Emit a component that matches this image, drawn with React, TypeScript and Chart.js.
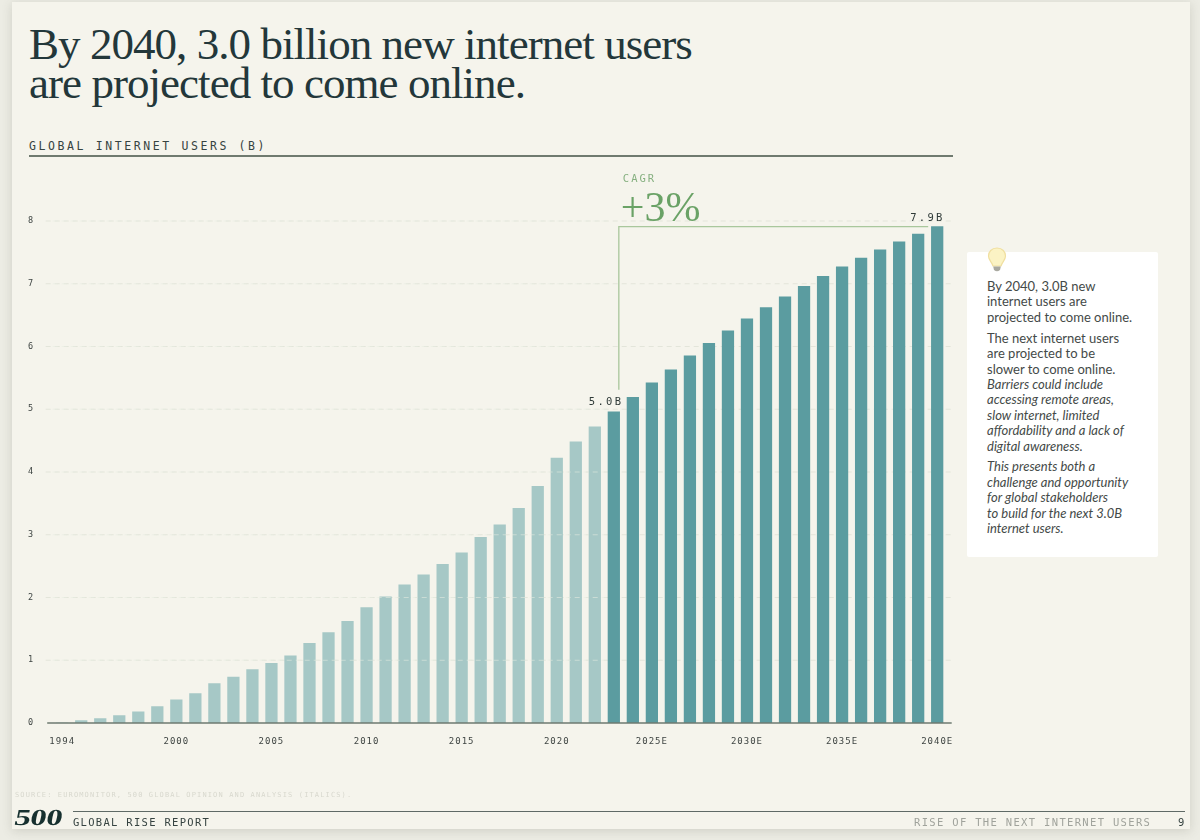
import React, { useEffect, useRef } from "react";
import { Chart, registerables } from "chart.js";

Chart.register(...registerables);

const years = [
  "1994", "1995", "1996", "1997", "1998", "1999", "2000", "2001", "2002", "2003", "2004", "2005",
  "2006", "2007", "2008", "2009", "2010", "2011", "2012", "2013", "2014", "2015", "2016", "2017",
  "2018", "2019", "2020", "2021", "2022", "2023", "2024", "2025E", "2026E", "2027E", "2028E", "2029E",
  "2030E", "2031E", "2032E", "2033E", "2034E", "2035E", "2036E", "2037E", "2038E", "2039E", "2040E",
];
const shownYears = ["1994", "2000", "2005", "2010", "2015", "2020", "2025E", "2030E", "2035E", "2040E"];
const historic = [
  0, 0.04, 0.07, 0.12, 0.18, 0.26, 0.37, 0.47, 0.63, 0.73, 0.85, 0.95, 1.07, 1.27, 1.44, 1.62, 1.84,
  2.01, 2.2, 2.36, 2.53, 2.71, 2.96, 3.16, 3.42, 3.77, 4.22, 4.48, 4.72,
];
const projected = [
  4.96, 5.19, 5.42, 5.63, 5.85, 6.05, 6.25, 6.44, 6.62, 6.79, 6.96, 7.12, 7.27, 7.41, 7.54, 7.67,
  7.79, 7.91,
];
const yTicks = [0, 1, 2, 3, 4, 5, 6, 7, 8];

const MONO = '"DejaVu Sans Mono", monospace';
const SERIF = '"Liberation Serif", serif';
const SANS = 'Lato, sans-serif';
const GREEN_LINE = "#a9c79c";

const decorPlugin = {
  id: "decor",
  beforeDraw(chart: any) {
    chart.ctx.letterSpacing = "1px";
    const { ctx, scales } = chart;
    const { x, y } = scales;
    ctx.save();
    ctx.strokeStyle = "#e3e5da";
    ctx.lineWidth = 1;
    ctx.setLineDash([5, 4]);
    yTicks.slice(1).forEach((t) => {
      ctx.beginPath();
      ctx.moveTo(x.left - 7, y.getPixelForValue(t));
      ctx.lineTo(x.right + 8, y.getPixelForValue(t));
      ctx.stroke();
    });
    ctx.restore();
  },
  afterDatasetsDraw(chart: any) {
    const { ctx, scales } = chart;
    const { x, y } = scales;
    const firstIdx = historic.length;
    const lastIdx = years.length - 1;
    const startX = x.getPixelForValue(firstIdx);
    const endX = x.getPixelForValue(lastIdx);

    ctx.save();
    // grid dashes showing through the light bars
    ctx.strokeStyle = "rgba(232,236,226,0.55)";
    ctx.lineWidth = 1;
    ctx.setLineDash([5, 4]);
    yTicks.slice(1).forEach((t) => {
      ctx.beginPath();
      ctx.moveTo(x.left, y.getPixelForValue(t));
      ctx.lineTo(startX - 7, y.getPixelForValue(t));
      ctx.stroke();
    });
    ctx.setLineDash([]);

    // baseline
    ctx.strokeStyle = "#6d7a70";
    ctx.lineWidth = 1.5;
    ctx.beginPath();
    ctx.moveTo(x.left - 5.5, y.getPixelForValue(0));
    ctx.lineTo(x.right + 5, y.getPixelForValue(0));
    ctx.stroke();

    // CAGR bracket
    const top = y.getPixelForValue(projected[projected.length - 1]);
    const bx = startX + 5;
    ctx.strokeStyle = GREEN_LINE;
    ctx.lineWidth = 1.3;
    ctx.beginPath();
    ctx.moveTo(bx, y.getPixelForValue(projected[0]) - 22);
    ctx.lineTo(bx, top);
    ctx.lineTo(endX - 9, top);
    ctx.stroke();

    // labels
    ctx.fillStyle = "#2f3a38";
    ctx.font = `10.5px ${MONO}`;
    ctx.letterSpacing = "2.3px";
    ctx.textBaseline = "middle";
    ctx.textAlign = "right";
    ctx.fillText(`${projected[0].toFixed(1)}B`, startX + 9.5, y.getPixelForValue(projected[0]) - 9);
    ctx.fillText(`${projected[projected.length - 1].toFixed(1)}B`, endX + 7.5, top - 8);

    ctx.textAlign = "left";
    ctx.fillStyle = "#86b080";
    ctx.font = `10.5px ${MONO}`;
    ctx.letterSpacing = "2px";
    ctx.fillText("CAGR", bx + 4, 179);
    ctx.fillStyle = "#6aa266";
    ctx.font = `42px ${SERIF}`;
    ctx.letterSpacing = "0px";
    ctx.textBaseline = "alphabetic";
    ctx.fillText("+3%", bx + 2, 221);
    ctx.restore();
    ctx.letterSpacing = "1px";
  },
};

const abs = (left: number, top: number, extra: React.CSSProperties = {}): React.CSSProperties => ({
  position: "absolute",
  left,
  top,
  whiteSpace: "nowrap",
  margin: 0,
  ...extra,
});

function Bulb() {
  return (
    <svg width="20" height="26" viewBox="0 0 20 26" style={{ position: "absolute", left: 987, top: 247 }}>
      <path
        d="M10 1 C4.5 1 1.5 5 1.5 9 C1.5 13 4.8 15 6 19 L14 19 C15.2 15 18.5 13 18.5 9 C18.5 5 15.5 1 10 1 Z"
        fill="#fbf3c4"
        stroke="#f0dfa0"
        strokeWidth="1.2"
      />
      <path d="M6.2 19.5 H13.8 L13 23 Q10 25.5 7 23 Z" fill="#a9a9a0" />
    </svg>
  );
}

export default function App() {
  const ref = useRef<HTMLCanvasElement>(null);

  useEffect(() => {
    const chart = new Chart(ref.current as HTMLCanvasElement, {
      type: "bar",
      data: {
        labels: years,
        datasets: [
          {
            label: "Historic",
            data: historic,
            backgroundColor: "#a6c8c6",
            barThickness: 11.6,
            grouped: false,
          },
          {
            label: "Projected",
            data: [...historic.map(() => null), ...projected],
            backgroundColor: "#5b9ca0",
            barThickness: 11.6,
            grouped: false,
          },
        ],
      } as any,
      options: {
        responsive: false,
        animation: false,
        layout: { padding: { top: 221, right: 253.3, left: 0, bottom: 0 } },
        plugins: { legend: { display: false }, tooltip: { enabled: false }, title: { display: false } },
        scales: {
          x: {
            afterFit(s: any) {
              s.height = 117;
            },
            grid: { display: false },
            border: { display: false },
            ticks: {
              autoSkip: false,
              maxRotation: 0,
              padding: 5,
              color: "#3f4543",
              font: { family: MONO, size: 9 },
              callback(this: any, v: any) {
                const l = years[v as number];
                return shownYears.includes(l) ? l : "";
              },
            },
          },
          y: {
            min: 0,
            max: 8,
            afterFit(s: any) {
              s.width = 52.7;
            },
            grid: { display: false, drawTicks: false },
            border: { display: false },
            ticks: {
              stepSize: 1,
              padding: 18.5,
              color: "#3f4543",
              font: { family: MONO, size: 8.5 },
            },
          },
        },
      } as any,
      plugins: [decorPlugin as any],
    });
    return () => chart.destroy();
  }, []);

  const p: React.CSSProperties = { margin: "0 0 5.5px 0" };
  return (
    <div style={{ position: "absolute", left: 0, top: 0, width: 1200, height: 840, background: "#ecece4", overflow: "hidden" }}>
      <div
        style={{
          position: "absolute",
          left: 12,
          top: 2,
          width: 1178,
          height: 827,
          background: "#f5f4ec",
          boxShadow: "0 2px 10px rgba(80,80,60,0.18)",
        }}
      />
      <h1
        style={abs(29, 25, {
          fontFamily: SERIF,
          fontWeight: 400,
          fontSize: 45,
          lineHeight: "38.5px",
          color: "#23373a",
          letterSpacing: "-0.95px",
        })}
      >
        By 2040, 3.0 billion new internet users
        <br />
        are projected to come online.
      </h1>
      <div style={abs(29, 139, { fontFamily: MONO, fontSize: 11.5, lineHeight: "14px", letterSpacing: "2.6px", color: "#364341" })}>
        GLOBAL INTERNET USERS (B)
      </div>
      <div style={{ position: "absolute", left: 29, top: 155, width: 924, height: 1.5, background: "#6f7a6f" }} />

      <canvas ref={ref} width={1200} height={840} style={{ position: "absolute", left: 0, top: 0, width: 1200, height: 840 }} />

      <div style={{ position: "absolute", left: 967, top: 252, width: 191, height: 305, background: "#ffffff", borderRadius: 2 }} />
      <Bulb />
      <div style={abs(987, 279, { fontFamily: SANS, fontSize: 13, lineHeight: "15.4px", color: "#444a48" })}>
        <p style={p}>
          By 2040, 3.0B new
          <br />
          internet users are
          <br />
          projected to come online.
        </p>
        <p style={p}>
          The next internet users
          <br />
          are projected to be
          <br />
          slower to come online.
          <br />
          <i>
            Barriers could include
            <br />
            accessing remote areas,
            <br />
            slow internet, limited
            <br />
            affordability and a lack of
            <br />
            digital awareness.
          </i>
        </p>
        <p style={p}>
          <i>
            This presents both a
            <br />
            challenge and opportunity
            <br />
            for global stakeholders
            <br />
            to build for the next 3.0B
            <br />
            internet users.
          </i>
        </p>
      </div>

      <div style={abs(15, 790, { fontFamily: MONO, fontSize: 7, lineHeight: "10px", letterSpacing: "1.14px", color: "#d8d8ce" })}>
        SOURCE: EUROMONITOR, 500 GLOBAL OPINION AND ANALYSIS (ITALICS).
      </div>
      <div
        style={abs(12, 805, {
          fontFamily: SERIF,
          fontWeight: 700,
          fontSize: 23,
          lineHeight: "26px",
          letterSpacing: "-0.3px",
          color: "#16302f",
          transformOrigin: "left bottom",
          transform: "scaleX(1.42) skewX(-8deg)",
        })}
      >
        500
      </div>
      <div style={{ position: "absolute", left: 73, top: 811, width: 1112, height: 1, background: "#5f6a66" }} />
      <div style={abs(73, 816, { fontFamily: MONO, fontSize: 10.5, lineHeight: "13px", letterSpacing: "1.3px", color: "#364341" })}>
        GLOBAL RISE REPORT
      </div>
      <div style={abs(914, 816, { fontFamily: MONO, fontSize: 10.5, lineHeight: "13px", letterSpacing: "1.33px", color: "#a0a39c" })}>
        RISE OF THE NEXT INTERNET USERS
      </div>
      <div style={abs(1178, 816, { fontFamily: MONO, fontSize: 10.5, lineHeight: "13px", color: "#364341" })}>9</div>
    </div>
  );
}
